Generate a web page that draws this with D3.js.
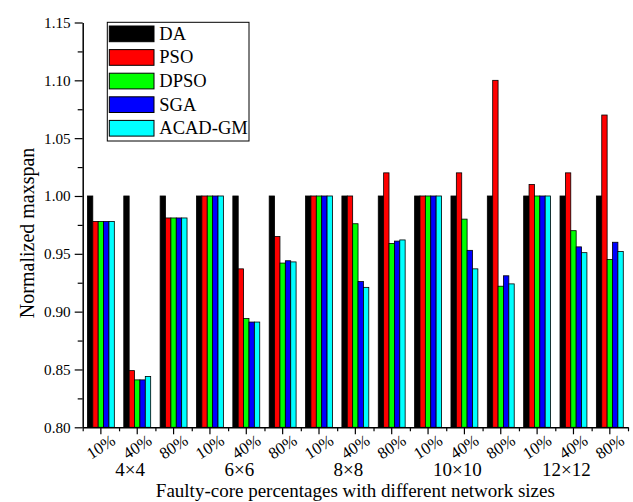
<!DOCTYPE html>
<html>
<head>
<meta charset="utf-8">
<script src="https://cdn.jsdelivr.net/npm/d3@7"></script>
<style>
  html, body { margin: 0; padding: 0; background: #fff; }
  svg { display: block; font-family: "Liberation Serif", "Times New Roman", serif; }
</style>
</head>
<body>
<svg id="chart" width="633" height="502"></svg>
<script>
// Fault percentages per network size (x categories)
const pctLabels = ["10%", "40%", "80%"];
const sizes = ["4×4", "6×6", "8×8", "10×10", "12×12"];
const series = ["DA", "PSO", "DPSO", "SGA", "ACAD-GM"];
const colors = ["#000000", "#ff0000", "#00ff00", "#0000ff", "#00ffff"];

// Normalized makespan, one value per (size, percentage) category
const valDA   = [1.000, 1.000, 1.000, 1.000, 1.000, 1.000, 1.000, 1.000, 1.000, 1.000, 1.000, 1.000, 1.000, 1.000, 1.000];
const valPSO  = [0.978, 0.849, 0.981, 1.000, 0.937, 0.965, 1.000, 1.000, 1.020, 1.000, 1.020, 1.100, 1.010, 1.020, 1.070];
const valDPSO = [0.978, 0.841, 0.981, 1.000, 0.894, 0.942, 1.000, 0.976, 0.959, 1.000, 0.980, 0.922, 1.000, 0.970, 0.945];
const valSGA  = [0.978, 0.841, 0.981, 1.000, 0.891, 0.944, 1.000, 0.926, 0.961, 1.000, 0.953, 0.931, 1.000, 0.956, 0.960];
const valACAD = [0.978, 0.844, 0.981, 1.000, 0.891, 0.943, 1.000, 0.921, 0.962, 1.000, 0.937, 0.924, 1.000, 0.951, 0.952];

const yMajor = [0.80, 0.85, 0.90, 0.95, 1.00, 1.05, 1.10, 1.15];
const yMinor = [0.825, 0.875, 0.925, 0.975, 1.025, 1.075, 1.125];

const allValues = [valDA, valPSO, valDPSO, valSGA, valACAD];
const nCat = sizes.length * pctLabels.length;

const svg = d3.select("#chart");
const plotL = 82.7, plotR = 628, plotT = 22.5, plotB = 427.3;

const x = d3.scaleBand().domain(d3.range(nCat)).range([plotL, plotR]).padding(0);
const xEdge = d3.scaleLinear().domain([0, nCat]).range([plotL, plotR]);
const y = d3.scaleLinear().domain([0.80, 1.15]).range([plotB, plotT]);

const groupW = x.bandwidth() * 0.74;
const inner = d3.scaleBand().domain(series).range([0, groupW]).padding(0);

// bars
const rows = [];
series.forEach((s, si) => {
  allValues[si].forEach((v, ci) => rows.push({ s, si, ci, v }));
});
svg.append("g").selectAll("rect").data(rows).join("rect")
  .attr("x", d => x(d.ci) + (x.bandwidth() - groupW) / 2 + inner(d.s))
  .attr("y", d => y(d.v))
  .attr("width", inner.bandwidth())
  .attr("height", d => y(0.80) - y(d.v))
  .attr("fill", d => colors[d.si])
  .attr("stroke", "#000")
  .attr("stroke-width", 0.8);

// y axis
const yAxis = svg.append("g").attr("transform", `translate(${plotL},0)`)
  .call(d3.axisLeft(y).tickValues(yMajor).tickFormat(d3.format(".2f")).tickSize(8).tickSizeOuter(0).tickPadding(4));
svg.append("g").attr("transform", `translate(${plotL},0)`)
  .call(d3.axisLeft(y).tickValues(yMinor).tickFormat("").tickSize(5).tickSizeOuter(0))
  .select(".domain").remove();
yAxis.selectAll("text").attr("font-size", 15.2).attr("fill", "#000")
  .attr("font-family", "Liberation Serif");

// x axis: labelled ticks at category centres, short ticks at category edges
const xAxis = svg.append("g").attr("transform", `translate(0,${plotB})`)
  .call(d3.axisBottom(x).tickFormat(i => pctLabels[i % 3]).tickSize(7).tickSizeOuter(0));
svg.append("g").attr("transform", `translate(0,${plotB})`)
  .call(d3.axisBottom(xEdge).tickValues(d3.range(nCat + 1)).tickFormat("").tickSize(4).tickSizeOuter(0))
  .select(".domain").remove();
xAxis.selectAll("text")
  .attr("y", null).attr("dy", null)
  .attr("font-size", 16.5).attr("fill", "#000").attr("font-family", "Liberation Serif")
  .attr("text-anchor", "middle")
  .attr("dominant-baseline", "central")
  .attr("transform", "translate(0,19.5) rotate(-33)");

svg.selectAll(".domain").attr("stroke", "#000").attr("stroke-width", 1.5);
svg.selectAll(".tick line").attr("stroke", "#000").attr("stroke-width", 1.2);

// network size labels under each triple of bars
svg.append("g").selectAll("text").data(sizes).join("text")
  .attr("x", (d, i) => x(i * 3 + 1) + x.bandwidth() / 2 - 7)
  .attr("y", 476)
  .attr("text-anchor", "middle")
  .attr("font-size", 19)
  .text(d => d);

// axis titles
svg.append("text")
  .attr("x", (plotL + plotR) / 2).attr("y", 497)
  .attr("text-anchor", "middle").attr("font-size", 19)
  .text("Faulty-core percentages with different network sizes");
svg.append("text")
  .attr("transform", `translate(34,${(plotT + plotB) / 2 + 8}) rotate(-90)`)
  .attr("text-anchor", "middle").attr("font-size", 20)
  .text("Normalized maxspan");

// legend
const lg = svg.append("g").attr("transform", "translate(107.3,22.3)");
lg.append("rect").attr("width", 141.7).attr("height", 118.7)
  .attr("fill", "#fff").attr("stroke", "#000").attr("stroke-width", 1);
const item = lg.selectAll("g.item").data(series).join("g").attr("class", "item")
  .attr("transform", (d, i) => `translate(2,${3.7 + i * 23.6})`);
item.append("rect").attr("width", 44.7).attr("height", 15.7)
  .attr("fill", (d, i) => colors[i]).attr("stroke", "#000").attr("stroke-width", 1);
item.append("text").attr("x", 50).attr("y", 7.85)
  .attr("dominant-baseline", "central").attr("font-size", 18.5)
  .text(d => d);
</script>
</body>
</html>
